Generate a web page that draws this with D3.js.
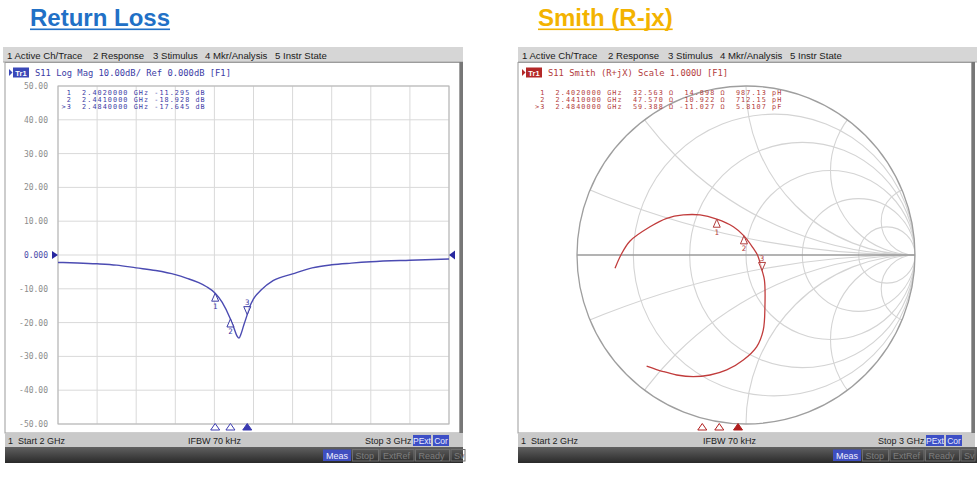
<!DOCTYPE html>
<html><head><meta charset="utf-8">
<script src="https://cdn.jsdelivr.net/npm/d3@7"></script>
<style>body{margin:0;background:#fff}svg{display:block}</style>
</head><body><svg id="c" width="977" height="482"></svg>
<script>
// ---------------- DATA ----------------
const titles = ["Return Loss", "Smith (R-jx)"];
const menuItems = ["1 Active Ch/Trace", "2 Response", "3 Stimulus", "4 Mkr/Analysis", "5 Instr State"];
const statusButtons = ["Meas", "Stop", "ExtRef", "Ready", "Sv"];
const headerLeft = "S11 Log Mag 10.00dB/ Ref 0.000dB [F1]";
const headerRight = "S11 Smith (R+jX) Scale 1.000U [F1]";
const startLabel = "1  Start 2 GHz", ifbwLabel = "IFBW 70 kHz", stopLabel = "Stop 3 GHz";
const freqDomain = [2, 3];
const yTicks = [50, 40, 30, 20, 10, 0, -10, -20, -30, -40, -50];
const yTickLabels = ["50.00", "40.00", "30.00", "20.00", "10.00", "0.000", "-10.00", "-20.00", "-30.00", "-40.00", "-50.00"];
const xGrid = [2.0, 2.1, 2.2, 2.3, 2.4, 2.5, 2.6, 2.7, 2.8, 2.9, 3.0];

// S11 log magnitude trace
const freqGHz = [2.00, 2.05, 2.10, 2.15, 2.20, 2.25, 2.30, 2.33, 2.36, 2.38, 2.402, 2.42, 2.441, 2.45, 2.458, 2.463, 2.468, 2.475, 2.484, 2.49, 2.50, 2.52, 2.55, 2.60, 2.65, 2.70, 2.75, 2.80, 2.90, 3.00];
const s11dB   = [-2.2, -2.35, -2.6, -3.0, -3.8, -4.6, -5.8, -6.9, -8.2, -9.4, -11.295, -14.0, -18.928, -21.6, -24.0, -24.6, -23.4, -20.8, -17.645, -15.4, -13.0, -10.3, -7.6, -5.6, -3.8, -2.9, -2.4, -2.0, -1.55, -1.2];

// markers
const markerIds = [1, 2, 3];
const markerFreqGHz = [2.402, 2.441, 2.484];
const markerDb = [-11.295, -18.928, -17.645];
const markerR = [32.563, 47.570, 59.388];
const markerX = [14.898, 10.922, -11.027];
const markerLC = ["987.13 pH", "712.15 pH", "5.8107 pF"];
const activeMarker = 3;

// Smith trace as reflection coefficient (Re, Im), 2 GHz -> 3 GHz
const smithRe = [-0.775, -0.740, -0.686, -0.568, -0.469, -0.371, -0.272, -0.173, -0.075, -0.012, 0.043, 0.068, 0.095, 0.109, 0.112, 0.102, 0.063, -0.016, -0.114, -0.213, -0.312, -0.410, -0.489, -0.588];
const smithIm = [-0.079, 0.000, 0.083, 0.167, 0.217, 0.237, 0.237, 0.212, 0.167, 0.113, 0.040, 0.000, -0.091, -0.148, -0.306, -0.444, -0.543, -0.621, -0.680, -0.710, -0.720, -0.710, -0.690, -0.657];
const rCircles = [0.2, 0.5, 1, 2, 5];
const xArcs = [0.2, 0.5, 1, 2, 5];
const Z0 = 50;

// ---------------- DRAW ----------------
const svg = d3.select("#c");
svg.append("rect").attr("width", 977).attr("height", 482).attr("fill", "#fff");
const defs = svg.append("defs");
const grad = defs.append("linearGradient").attr("id", "dark").attr("x1", 0).attr("y1", 0).attr("x2", 0).attr("y2", 1);
grad.append("stop").attr("offset", "0%").attr("stop-color", "#606060");
grad.append("stop").attr("offset", "100%").attr("stop-color", "#2a2a2a");

const uiFont = "'Liberation Sans', Arial, sans-serif";
const mono = "'DejaVu Sans Mono', monospace";
const blueTrace = "#4b4bb2", redTrace = "#c13c3c";
const blueText = "#3c3ca6", redText = "#b33c3c";

// Titles
function title(txt, x, color) {
  const t = svg.append("text").attr("x", x).attr("y", 26).text(txt)
    .attr("font-family", uiFont).attr("font-weight", "bold").attr("font-size", 24).attr("fill", color);
  const w = t.node().getComputedTextLength();
  svg.append("rect").attr("x", x).attr("y", 28.5).attr("width", w).attr("height", 1.6).attr("fill", color);
}
title(titles[0], 30, "#2170c6");
title(titles[1], 538, "#f3b300");

function chrome(P) {
  const g = svg.append("g");
  g.append("rect").attr("x", P.menuX).attr("y", 47).attr("width", P.menuW).attr("height", 15).attr("fill", "#d6d6d6");
  g.append("line").attr("x1", P.menuX).attr("x2", P.menuX + P.menuW).attr("y1", 62).attr("y2", 62).attr("stroke", "#a8a8a8");
  const menuRel = [0, 86, 146, 198, 268];
  menuItems.forEach((m, i) => g.append("text").attr("x", P.menuText + menuRel[i]).attr("y", 58.5).text(m)
    .attr("font-family", uiFont).attr("font-size", 9.6).attr("fill", "#1a1a1a"));
  g.append("rect").attr("x", P.x0).attr("y", 62.5).attr("width", P.bodyW).attr("height", 370.5)
    .attr("fill", "#fff").attr("stroke", "#9c9c9c");
  g.append("rect").attr("x", P.edgeX).attr("y", 62).attr("width", 3.5).attr("height", 371).attr("fill", "#777");
  g.append("rect").attr("x", P.x0).attr("y", 433).attr("width", P.statW).attr("height", 14).attr("fill", "#c9c9c9");
  g.append("text").attr("x", P.x0 + 3).attr("y", 443.5).text(startLabel).style("white-space", "pre")
    .attr("font-family", uiFont).attr("font-size", 9).attr("fill", "#222");
  g.append("text").attr("x", P.ifbwX).attr("y", 443.5).text(ifbwLabel)
    .attr("font-family", uiFont).attr("font-size", 9).attr("fill", "#222");
  g.append("text").attr("x", P.stopX).attr("y", 443.5).text(stopLabel)
    .attr("font-family", uiFont).attr("font-size", 9).attr("fill", "#222");
  [["PExt", P.stopX + 48], ["Cor", P.stopX + 68]].forEach(([t, x]) => {
    g.append("rect").attr("x", x).attr("y", 435).attr("width", t === "PExt" ? 18 : 16).attr("height", 11).attr("fill", "#3d4fc6");
    g.append("text").attr("x", x + (t === "PExt" ? 9 : 8)).attr("y", 443.5).attr("text-anchor", "middle").text(t)
      .attr("font-family", uiFont).attr("font-size", 8.5).attr("fill", "#e8ecff");
  });
  g.append("rect").attr("x", P.x0).attr("y", 447).attr("width", P.darkW).attr("height", 16).attr("fill", "url(#dark)");
  const bw = [28, 26, 34, 34, 14];
  let bx = P.measX;
  statusButtons.forEach((b, i) => {
    if (i === 0) g.append("rect").attr("x", bx).attr("y", 449.5).attr("width", bw[i]).attr("height", 11.5).attr("fill", "#3f4fc0");
    else g.append("rect").attr("x", bx).attr("y", 449.5).attr("width", bw[i]).attr("height", 11.5).attr("fill", "none").attr("stroke", "#6e6e6e");
    g.append("text").attr("x", bx + 3).attr("y", 458.5).text(b)
      .attr("font-family", uiFont).attr("font-size", 9).attr("fill", i === 0 ? "#f0f0ff" : "#7d7d7d");
    bx += bw[i] + 1.5;
  });
  g.append("path").attr("d", `M${P.x0 + 4},69 L${P.x0 + 7.5},72.5 L${P.x0 + 4},76 Z`).attr("fill", P.iconColor);
  g.append("rect").attr("x", P.x0 + 8).attr("y", 67.5).attr("width", 16).attr("height", 10).attr("fill", P.iconColor);
  g.append("text").attr("x", P.x0 + 16).attr("y", 75.5).attr("text-anchor", "middle").text("Tr1")
    .attr("font-family", uiFont).attr("font-weight", "bold").attr("font-size", 7.5).attr("fill", "#fff");
  g.append("text").attr("x", P.x0 + 30).attr("y", 75.5).text(P.header).style("white-space", "pre")
    .attr("font-family", mono).attr("font-size", 8.8).attr("fill", P.textColor);
  return g;
}

chrome({ x0: 5, menuX: 3, menuW: 460, menuText: 7, bodyW: 455, edgeX: 459.5, statW: 458, darkW: 458,
  ifbwX: 188, stopX: 365, measX: 323, iconColor: "#3a48b8", header: headerLeft, textColor: blueText });
chrome({ x0: 518, menuX: 518, menuW: 459, menuText: 522, bodyW: 454, edgeX: 971.5, statW: 457, darkW: 459,
  ifbwX: 703, stopX: 878, measX: 833, iconColor: "#b32828", header: headerRight, textColor: redText });

// table text: small mono font, letter-spaced to the instrument's column pitch
function tableLine(g, xPos, yPos, s, color) {
  g.append("text").attr("x", xPos).attr("y", yPos).text(s).style("white-space", "pre")
    .attr("font-family", mono).attr("font-size", 6.8).attr("letter-spacing", 1.06).attr("fill", color);
}

// ---------- Left: Log Mag ----------
const x = d3.scaleLinear().domain(freqDomain).range([58, 449]);
const y = d3.scaleLinear().domain([-50, 50]).range([424, 86]);
const L = svg.append("g");
L.selectAll("line.v").data(xGrid).join("line").attr("x1", d => x(d)).attr("x2", d => x(d))
  .attr("y1", y(50)).attr("y2", y(-50)).attr("stroke", "#d9d9d9");
L.selectAll("line.h").data(yTicks).join("line").attr("y1", d => y(d)).attr("y2", d => y(d))
  .attr("x1", x(2)).attr("x2", x(3)).attr("stroke", "#d9d9d9");
L.append("rect").attr("x", x(2)).attr("y", y(50)).attr("width", x(3) - x(2)).attr("height", y(-50) - y(50))
  .attr("fill", "none").attr("stroke", "#b4b4b4");
L.selectAll("text.yl").data(yTicks).join("text").attr("x", 48).attr("y", d => y(d) + 3)
  .attr("text-anchor", "end").text((d, i) => yTickLabels[i])
  .attr("font-family", mono).attr("font-size", 8).attr("fill", d => d === 0 ? "#4a4aa8" : "#8c8c8c");
L.append("path").attr("d", `M${x(2) - 6},${y(0) - 4} L${x(2)},${y(0)} L${x(2) - 6},${y(0) + 4} Z`).attr("fill", "#2828a0");
L.append("path").attr("d", `M${x(3) + 6},${y(0) - 4.5} L${x(3)},${y(0)} L${x(3) + 6},${y(0) + 4.5} Z`).attr("fill", "#2828a0");
const pts = freqGHz.map((f, i) => [f, s11dB[i]]);
L.append("path").datum(pts).attr("fill", "none").attr("stroke", blueTrace).attr("stroke-width", 1.4)
  .attr("d", d3.line().x(d => x(d[0])).y(d => y(d[1])).curve(d3.curveMonotoneX));
markerIds.forEach((id, i) => {
  const s = (id === activeMarker ? ">" : " ") + id + "  " + markerFreqGHz[i].toFixed(7) + " GHz " + markerDb[i].toFixed(3) + " dB";
  tableLine(L, 61.5, 94.5 + i * 7.3, s, blueText);
});

function drawMarker(g, px, py, id, active, color) {
  if (active) {
    g.append("path").attr("d", `M${px},${py} L${px - 3.5},${py - 8} L${px + 3.5},${py - 8} Z`)
      .attr("fill", "#fff").attr("fill-opacity", 0.6).attr("stroke", color).attr("stroke-width", 1);
    g.append("text").attr("x", px).attr("y", py - 9.5).attr("text-anchor", "middle").text(id)
      .attr("font-family", mono).attr("font-size", 7.5).attr("fill", color);
  } else {
    g.append("path").attr("d", `M${px},${py} L${px - 3.5},${py + 8} L${px + 3.5},${py + 8} Z`)
      .attr("fill", "#fff").attr("fill-opacity", 0.6).attr("stroke", color).attr("stroke-width", 1);
    g.append("text").attr("x", px).attr("y", py + 15.5).attr("text-anchor", "middle").text(id)
      .attr("font-family", mono).attr("font-size", 7.5).attr("fill", color);
  }
}
function stimTriangles(g, sc, color) {
  markerIds.forEach((id, i) => {
    const px = sc(markerFreqGHz[i]);
    g.append("path").attr("d", `M${px},423.5 L${px - 4.5},430 L${px + 4.5},430 Z`)
      .attr("fill", id === activeMarker ? color : "#fff").attr("stroke", color).attr("stroke-width", 1);
  });
}
markerIds.forEach((id, i) => drawMarker(L, x(markerFreqGHz[i]), y(markerDb[i]), id, id === activeMarker, blueText));
stimTriangles(L, x, "#3a3ab0");

// ---------- Right: Smith ----------
const cx = 746, cy = 255, R = 169;
const sx = d3.scaleLinear().domain([-1, 1]).range([cx - R, cx + R]);
const sy = d3.scaleLinear().domain([-1, 1]).range([cy + R, cy - R]);
const k = (sx(1) - sx(0));
defs.append("clipPath").attr("id", "unit").append("circle").attr("cx", cx).attr("cy", cy).attr("r", R);
const S = svg.append("g");
const G = S.append("g").attr("clip-path", "url(#unit)");
rCircles.forEach(r => {
  G.append("circle").attr("cx", sx(r / (1 + r))).attr("cy", sy(0)).attr("r", k / (1 + r))
    .attr("fill", "none").attr("stroke", "#d4d4d4").attr("stroke-width", 1.1);
});
xArcs.forEach(xv => {
  [1, -1].forEach(sg => {
    G.append("circle").attr("cx", sx(1)).attr("cy", sy(sg / xv)).attr("r", k / xv)
      .attr("fill", "none").attr("stroke", "#d4d4d4").attr("stroke-width", 1.1);
  });
});
S.append("circle").attr("cx", cx).attr("cy", cy).attr("r", R).attr("fill", "none").attr("stroke", "#9e9e9e").attr("stroke-width", 1.3);
S.append("line").attr("x1", sx(-1)).attr("x2", sx(1)).attr("y1", sy(0)).attr("y2", sy(0)).attr("stroke", "#9a9a9a").attr("stroke-width", 1.6);
const sPts = smithRe.map((r, i) => [r, smithIm[i]]);
S.append("path").datum(sPts).attr("fill", "none").attr("stroke", redTrace).attr("stroke-width", 1.3)
  .attr("d", d3.line().x(d => sx(d[0])).y(d => sy(d[1])).curve(d3.curveCatmullRom));
markerIds.forEach((id, i) => {
  const s = (id === activeMarker ? ">" : " ") + id + "  " + markerFreqGHz[i].toFixed(7) + " GHz  " +
    markerR[i].toFixed(3) + " Ω " + markerX[i].toFixed(3).padStart(7, " ") + " Ω  " + markerLC[i];
  tableLine(S, 535, 94.5 + i * 7.3, s, redText);
});
markerIds.forEach((id, i) => {
  const zr = markerR[i], zi = markerX[i];
  const nr = zr - Z0, dr = zr + Z0;
  const den = dr * dr + zi * zi;
  const gr = (nr * dr + zi * zi) / den;
  const gi = (zi * dr - nr * zi) / den;
  drawMarker(S, sx(gr), sy(gi), id, id === activeMarker, redText);
});
const fx2 = d3.scaleLinear().domain(freqDomain).range([527, 963]);
stimTriangles(S, fx2, "#b01e1e");
</script></body></html>
